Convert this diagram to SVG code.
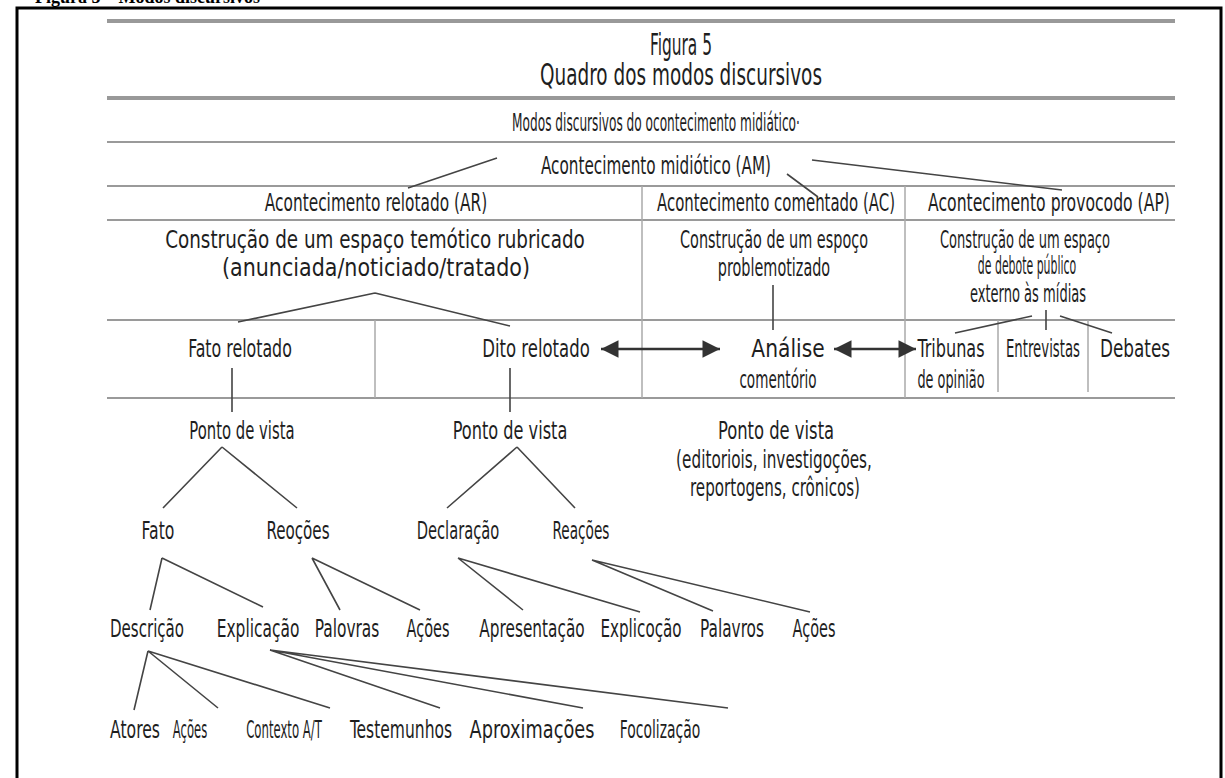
<svg xmlns="http://www.w3.org/2000/svg" width="1225" height="778" viewBox="0 0 1225 778">
<style>
.t{font-family:'DejaVu Sans Condensed','Liberation Sans Narrow','Liberation Sans',sans-serif;fill:#1e1e1e;font-size:24px;text-anchor:middle}
.h{font-size:31px}
.r{stroke:#9a9a9a;stroke-width:2;fill:none}
.rt{stroke:#999;stroke-width:4;fill:none}
.v{stroke:#aaa;stroke-width:1.5;fill:none}
.l{stroke:#444;stroke-width:1.6;fill:none}
.ar{stroke:#333;stroke-width:2.5;fill:none}
</style>
<defs>
<marker id="ah" viewBox="0 0 10 10" refX="10" refY="5" markerWidth="10" markerHeight="7" markerUnits="strokeWidth" orient="auto-start-reverse">
<path d="M0,0 L10,5 L0,10 Z" fill="#333"/>
</marker>
</defs>
<rect width="1225" height="778" fill="#fff"/>
<text x="35" y="3" font-family="'Liberation Serif',serif" font-weight="bold" font-size="18" fill="#000">Figura 5 – Modos discursivos</text>
<g id="frame" fill="none" stroke="#000" stroke-width="3">
<path d="M17,778 V8 H1221 V778"/>
</g>
<g id="table">
<path class="rt" d="M107,21 H1175 M107,98 H1175"/>
<path class="r" d="M107,142 H1175 M107,186 H1175 M107,220 H1175 M107,320 H1175 M107,398 H1175"/>
<path class="v" d="M642,186 V398 M905,186 V398 M375,320 V398 M998,320 V392 M1088,320 V392"/>
</g>
<g id="title">
<text class="t h" transform="matrix(0.78 0 0 1 681 55)" textLength="79.5" lengthAdjust="spacingAndGlyphs">Figura 5</text>
<text class="t h" transform="matrix(0.78 0 0 1 681 85)" textLength="361.5" lengthAdjust="spacingAndGlyphs">Quadro dos modos discursivos</text>
</g>
<g id="modos"><text class="t" transform="matrix(0.78 0 0 1 656 131)" textLength="369" lengthAdjust="spacingAndGlyphs">Modos discursivos do ocontecimento midiático·</text></g>
<g id="am"><text class="t" transform="matrix(0.78 0 0 1 656 174)" textLength="295" lengthAdjust="spacingAndGlyphs">Acontecimento midiótico (AM)</text></g>
<g id="ar">
<text class="t" transform="matrix(0.78 0 0 1 376 211)" textLength="285" lengthAdjust="spacingAndGlyphs">Acontecimento relotado (AR)</text>
<text class="t" transform="matrix(0.78 0 0 1 375 248)" textLength="538" lengthAdjust="spacingAndGlyphs">Construção de um espaço temótico rubricado</text>
<text class="t" transform="matrix(0.78 0 0 1 376 276)" textLength="395" lengthAdjust="spacingAndGlyphs">(anunciada/noticiado/tratado)</text>
</g>
<g id="ac">
<text class="t" transform="matrix(0.78 0 0 1 776 211)" textLength="305" lengthAdjust="spacingAndGlyphs">Acontecimento comentado (AC)</text>
<text class="t" transform="matrix(0.78 0 0 1 774 248)" textLength="241" lengthAdjust="spacingAndGlyphs">Construção de um espoço</text>
<text class="t" transform="matrix(0.78 0 0 1 774 276)" textLength="144" lengthAdjust="spacingAndGlyphs">problemotizado</text>
</g>
<g id="ap">
<text class="t" transform="matrix(0.78 0 0 1 1049 211)" textLength="310" lengthAdjust="spacingAndGlyphs">Acontecimento provocodo (AP)</text>
<text class="t" transform="matrix(0.78 0 0 1 1025 248)" textLength="218" lengthAdjust="spacingAndGlyphs">Construção de um espaço</text>
<text class="t" transform="matrix(0.78 0 0 1 1027 274)" textLength="126" lengthAdjust="spacingAndGlyphs">de debote público</text>
<text class="t" transform="matrix(0.78 0 0 1 1028 302)" textLength="149" lengthAdjust="spacingAndGlyphs">externo às mídias</text>
</g>
<g id="fato-relotado"><text class="t" transform="matrix(0.78 0 0 1 240 357)" textLength="133" lengthAdjust="spacingAndGlyphs">Fato relotado</text></g>
<g id="dito-relotado"><text class="t" transform="matrix(0.78 0 0 1 536 357)" textLength="138" lengthAdjust="spacingAndGlyphs">Dito relotado</text></g>
<g id="analise">
<text class="t" transform="matrix(0.78 0 0 1 788 357)" textLength="94" lengthAdjust="spacingAndGlyphs">Análise</text>
<text class="t" transform="matrix(0.78 0 0 1 778 388)" textLength="99" lengthAdjust="spacingAndGlyphs">comentório</text>
</g>
<g id="tribunas">
<text class="t" transform="matrix(0.78 0 0 1 951 357)" textLength="86" lengthAdjust="spacingAndGlyphs">Tribunas</text>
<text class="t" transform="matrix(0.78 0 0 1 951 388)" textLength="86" lengthAdjust="spacingAndGlyphs">de opinião</text>
</g>
<g id="entrevistas"><text class="t" transform="matrix(0.78 0 0 1 1043 357)" textLength="95" lengthAdjust="spacingAndGlyphs">Entrevistas</text></g>
<g id="debates"><text class="t" transform="matrix(0.78 0 0 1 1135 357)" textLength="90" lengthAdjust="spacingAndGlyphs">Debates</text></g>
<g id="pv1"><text class="t" transform="matrix(0.78 0 0 1 242 439)" textLength="135" lengthAdjust="spacingAndGlyphs">Ponto de vista</text></g>
<g id="pv2"><text class="t" transform="matrix(0.78 0 0 1 510 439)" textLength="147" lengthAdjust="spacingAndGlyphs">Ponto de vista</text></g>
<g id="pv3">
<text class="t" transform="matrix(0.78 0 0 1 776 439)" textLength="149" lengthAdjust="spacingAndGlyphs">Ponto de vista</text>
<text class="t" transform="matrix(0.78 0 0 1 774 468)" textLength="251" lengthAdjust="spacingAndGlyphs">(editoriois, investigoções,</text>
<text class="t" transform="matrix(0.78 0 0 1 775 496)" textLength="218" lengthAdjust="spacingAndGlyphs">reportogens, crônicos)</text>
</g>
<g id="fato"><text class="t" transform="matrix(0.78 0 0 1 158 539)" textLength="42" lengthAdjust="spacingAndGlyphs">Fato</text></g>
<g id="reocoes"><text class="t" transform="matrix(0.78 0 0 1 298 539)" textLength="81" lengthAdjust="spacingAndGlyphs">Reoções</text></g>
<g id="declaracao"><text class="t" transform="matrix(0.78 0 0 1 458 539)" textLength="106" lengthAdjust="spacingAndGlyphs">Declaração</text></g>
<g id="reacoes"><text class="t" transform="matrix(0.78 0 0 1 581 539)" textLength="73" lengthAdjust="spacingAndGlyphs">Reações</text></g>
<g id="descricao"><text class="t" transform="matrix(0.78 0 0 1 147 637)" textLength="95" lengthAdjust="spacingAndGlyphs">Descrição</text></g>
<g id="explicacao"><text class="t" transform="matrix(0.78 0 0 1 258 637)" textLength="106" lengthAdjust="spacingAndGlyphs">Explicação</text></g>
<g id="palovras"><text class="t" transform="matrix(0.78 0 0 1 347 637)" textLength="83" lengthAdjust="spacingAndGlyphs">Palovras</text></g>
<g id="acoes1"><text class="t" transform="matrix(0.78 0 0 1 428 637)" textLength="55" lengthAdjust="spacingAndGlyphs">Ações</text></g>
<g id="apresentacao"><text class="t" transform="matrix(0.78 0 0 1 532 637)" textLength="135" lengthAdjust="spacingAndGlyphs">Apresentação</text></g>
<g id="explicocao"><text class="t" transform="matrix(0.78 0 0 1 641 637)" textLength="104" lengthAdjust="spacingAndGlyphs">Explicoção</text></g>
<g id="palavros"><text class="t" transform="matrix(0.78 0 0 1 732 637)" textLength="82" lengthAdjust="spacingAndGlyphs">Palavros</text></g>
<g id="acoes2"><text class="t" transform="matrix(0.78 0 0 1 814 637)" textLength="55" lengthAdjust="spacingAndGlyphs">Ações</text></g>
<g id="atores"><text class="t" transform="matrix(0.78 0 0 1 135 738)" textLength="64" lengthAdjust="spacingAndGlyphs">Atores</text></g>
<g id="acoes3"><text class="t" transform="matrix(0.78 0 0 1 190 738)" textLength="44" lengthAdjust="spacingAndGlyphs">Ações</text></g>
<g id="contexto"><text class="t" transform="matrix(0.78 0 0 1 284 738)" textLength="97" lengthAdjust="spacingAndGlyphs">Contexto A/T</text></g>
<g id="testemunhos"><text class="t" transform="matrix(0.78 0 0 1 401 738)" textLength="131" lengthAdjust="spacingAndGlyphs">Testemunhos</text></g>
<g id="aproximacoes"><text class="t" transform="matrix(0.78 0 0 1 532 738)" textLength="160" lengthAdjust="spacingAndGlyphs">Aproximações</text></g>
<g id="focolizacao"><text class="t" transform="matrix(0.78 0 0 1 660 738)" textLength="103" lengthAdjust="spacingAndGlyphs">Focolização</text></g>
<g id="connectors">
<path class="l" d="M408,188 L497,158 M787,174 L818,197 M812,160 L1062,190"/>
<path class="l" d="M375,293 L238,322 M375,293 L510,326"/>
<path class="l" d="M773,285 V330"/>
<path class="l" d="M1032,316 L955,333 M1046,310 V330 M1060,316 L1112,333"/>
<path class="l" d="M232,368 V412 M510,368 V412"/>
<path class="l" d="M222,447 L163,508 M222,447 L297,508 M517,447 L447,508 M517,447 L575,508"/>
<path class="l" d="M162,558 L150,610 M162,558 L263,607 M312,558 L340,610 M312,558 L420,610 M458,558 L523,610 M458,558 L640,612 M592,560 L713,611 M592,560 L810,612"/>
<path class="l" d="M148,651 L134,710 M148,651 L218,708 M148,651 L330,708 M270,650 L440,708 M270,650 L583,708 M270,650 L728,708"/>
<path class="ar" d="M601,349 H720" marker-start="url(#ah)" marker-end="url(#ah)"/>
<path class="ar" d="M834,349 H916" marker-start="url(#ah)" marker-end="url(#ah)"/>
</g>
</svg>
